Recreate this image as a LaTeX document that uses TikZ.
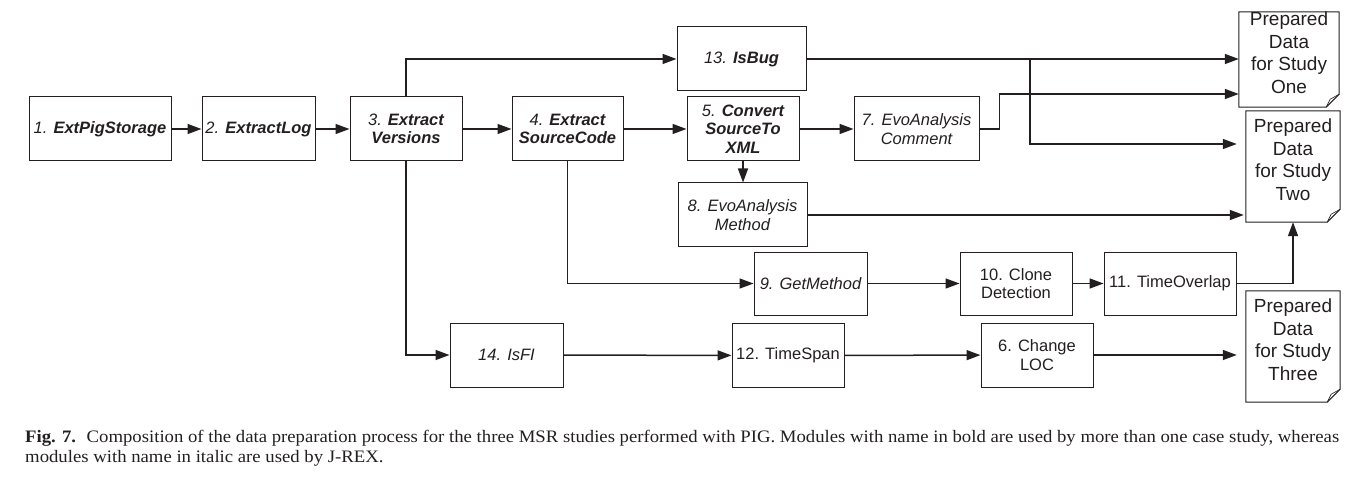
\documentclass[tikz,border=0pt]{standalone}
\usepackage{fontspec}
\setmainfont{Liberation Sans}
\newfontfamily\capfont[FakeStretch=1.07]{Liberation Serif}
\usetikzlibrary{arrows.meta,calc}
\definecolor{ink}{HTML}{231F20}
\begin{document}
\begin{tikzpicture}[x=1pt,y=-1pt,
  box/.style={draw=ink, line width=1pt, inner sep=0pt, minimum height=64pt, align=center, text=ink,
    font=\fontsize{16.5}{18.5}\selectfont},
  docbox/.style={inner sep=0pt},
  doctext/.style={inner sep=0pt, align=center, text=ink, font=\fontsize{19}{22.5}\selectfont},
  docline/.style={draw=ink, line width=1pt, line join=miter},
  arr/.style={draw=ink, line width=1.5pt, -{Triangle[length=14pt,width=10pt]}},
  captext/.style={anchor=base west, inner sep=0pt, text=ink, font=\capfont\fontsize{17.5}{20}\selectfont}
]
\useasboundingbox (0,0) rectangle (1372,486);

% modules
\node[box, minimum width=142pt] (n1) at (100,129) {\itshape 1. \textbf{ExtPigStorage}};
\node[box, minimum width=113pt] (n2) at (258.5,129) {\itshape 2. \textbf{ExtractLog}};
\node[box, minimum width=112pt] (n3) at (406,129) {\itshape 3. \textbf{Extract}\\\itshape\bfseries Versions};
\node[box, minimum width=111pt] (n4) at (567.5,129) {\itshape 4. \textbf{Extract}\\\itshape\bfseries SourceCode};
\node[box, minimum width=129pt] (n13) at (741.5,59) {\itshape 13. \textbf{IsBug}};
\node[box, minimum width=112pt] (n5) at (743,129) {\itshape 5. \textbf{Convert}\\\itshape\bfseries SourceTo\\\itshape\bfseries XML};
\node[box, minimum width=125pt] (n7) at (916.5,129) {\itshape 7. EvoAnalysis\\\itshape Comment};
\node[box, minimum width=129pt] (n8) at (742.5,215) {\itshape 8. EvoAnalysis\\\itshape Method};
\node[box, minimum width=113pt, minimum height=63pt] (n9) at (810.5,283.5) {\itshape 9. GetMethod};
\node[box, minimum width=112pt, minimum height=63pt] (n10) at (1016,283.5) {10. Clone\\Detection};
\node[box, minimum width=132pt, minimum height=63pt] (n11) at (1170,283.5) {11. TimeOverlap};
\node[box, minimum width=113pt] (n14) at (506.5,355) {\itshape 14. IsFI};
\node[box, minimum width=112pt] (n12) at (788,355.5) {12. TimeSpan};
\node[box, minimum width=112pt] (n6) at (1037,355) {6. Change\\LOC};

% prepared data documents
\node[docbox, minimum width=100pt, minimum height=95pt] (dOne) at (1289,59.5) {};
\node[docbox, minimum width=94pt, minimum height=111pt] (dTwo) at (1293,166.5) {};
\node[docbox, minimum width=94pt, minimum height=111pt] (dThree) at (1293,346.5) {};
\foreach \d in {dOne,dTwo,dThree}{
  \draw[docline] (\d.north west) -- (\d.north east) -- ([yshift=13pt]\d.south east)
    -- ([xshift=-13pt]\d.south east) -- (\d.south west) -- cycle;
  \draw[ink, line width=0.6pt, line join=round] ([yshift=13pt]\d.south east) -- ([xshift=-9pt,yshift=8pt]\d.south east)
    -- ([xshift=-13pt]\d.south east);
}
\node[doctext] (tOne) at ([yshift=7pt]dOne.center) {Prepared\\Data\\for Study\\One};
\node[doctext] (tTwo) at ([yshift=7pt]dTwo.center) {Prepared\\Data\\for Study\\Two};
\node[doctext] (tThree) at ([yshift=7pt]dThree.center) {Prepared\\Data\\for Study\\Three};

% connectors
\draw[arr] (n1) -- (n2);
\draw[arr] (n2) -- (n3);
\draw[arr] (n3) -- (n4);
\draw[arr] (n4) -- (n5);
\draw[arr] (n5) -- (n7);
\draw[arr] (n3.north) |- (n13.west);
\draw[arr] (n3.south) |- (n14.west);
\draw[arr] (n4.south) |- (n9.west);
\draw[arr] (n5.south) -- (n5.south |- n8.north);
\draw[arr] (n13.east) -- (n13.east -| dOne.west);
\coordinate (br) at (1030,59);
\draw[arr, shorten >=9pt] (br) |- ([yshift=22.5pt]dTwo.west);
\draw[arr] (n7.east) -- ++(20,0) |- ([yshift=-34.5pt]dOne.west);
\draw[arr, shorten >=2pt] (n8.east) -- (n8.east -| dTwo.west);
\draw[arr] (n9) -- (n10);
\draw[arr] (n10) -- (n11);
\draw[arr] (n11.east) -| (dTwo.south);
\draw[arr] (n14) -- (n12);
\draw[arr] (n12) -- (n6);
\draw[arr, shorten >=9pt] (n6.east) -- (n6.east -| dThree.west);

% caption
\node[captext] (cap1) at (25,442) {\textbf{Fig. 7.}\hspace{0.6em}Composition of the data preparation process for the three MSR studies performed with PIG. Modules with name in bold are used by more than one case study, whereas};
\node[captext] (cap2) at (25,462) {modules with name in italic are used by J-REX.};
\end{tikzpicture}
\end{document}
